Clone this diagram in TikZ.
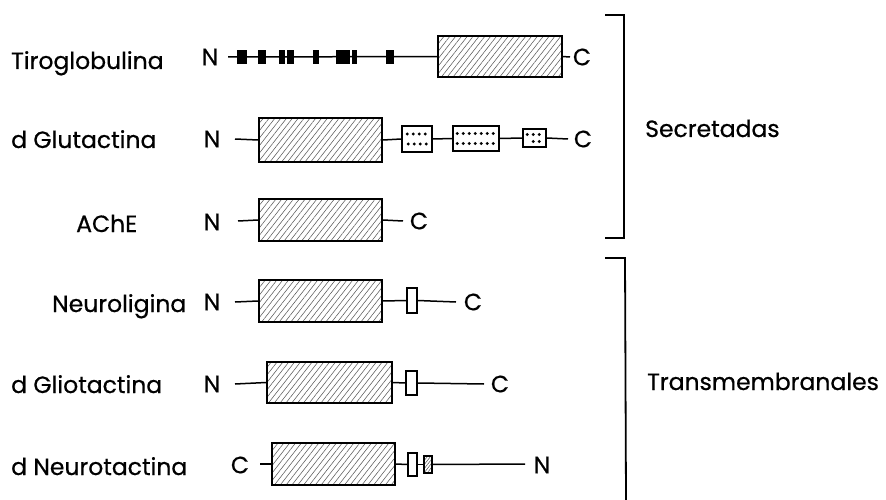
\documentclass[tikz,border=0pt]{standalone}
\usepackage{fontspec}
\setmainfont{Poppins}[FakeBold=0.6]
\usetikzlibrary{patterns.meta,calc}
\begin{document}
\begin{tikzpicture}[x=1pt,y=-1pt,
  lab/.style={font=\fontsize{23.5}{26}\selectfont, inner sep=0pt, anchor=base west},
  term/.style={font=\fontsize{23.5}{26}\selectfont, inner sep=0pt},
  ln/.style={line width=1.5pt},
  hbox/.style={draw, line width=1.8pt, inner sep=0pt,
    pattern={Lines[angle=52,distance=4.6pt,line width=0.55pt]}, pattern color=black!65},
  dbox/.style={draw, line width=1.5pt, fill=white, inner sep=0pt},
  blk/.style={fill=black, inner sep=0pt, minimum height=14pt},
  tmbox/.style={draw, line width=1.4pt, fill=white, inner sep=0pt},
  brk/.style={line width=1.8pt},
  dt/.style={circle, fill=black, inner sep=0pt, minimum size=3.2pt}
]
\useasboundingbox (0,0) rectangle (886,500);

% ---------- Row 1: Tiroglobulina ----------
\node[lab] (l1) at (11,69) {Tiroglobulina};
\node[term] (n1) at (210,57) {N};
\coordinate (s1) at (228,57);
\node[hbox, minimum width=124pt, minimum height=41pt] (b1) at (500,56.5) {};
\coordinate (e1) at (570,57);
\node[term] (c1) at (582,57) {C};
\draw[ln] (s1) -- (b1.west);
\draw[ln] (b1.east) -- (e1);
\node[blk, minimum width=10pt] (k1) at (242,57) {};
\node[blk, minimum width=8pt] (k2) at (262,57) {};
\node[blk, minimum width=6pt] (k3) at (282,57) {};
\node[blk, minimum width=7pt] (k4) at (290.5,57) {};
\node[blk, minimum width=6pt] (k5) at (316,57) {};
\node[blk, minimum width=14pt] (k6) at (343,57) {};
\node[blk, minimum width=5pt] (k7) at (354.5,57) {};
\node[blk, minimum width=8pt] (k8) at (390,57) {};

% ---------- Row 2: d Glutactina ----------
\node[lab] (l2) at (11,148) {d Glutactina};
\node[term] (n2) at (212,139) {N};
\coordinate (s2) at (235,139);
\node[hbox, minimum width=123pt, minimum height=44pt] (b2) at (320.5,140) {};
\node[dbox, minimum width=30pt, minimum height=26pt] (d1) at (417,139) {};
\node[dbox, minimum width=46pt, minimum height=25pt] (d2) at (476,138.5) {};
\node[dbox, minimum width=23pt, minimum height=18pt] (d3) at (534.5,138) {};
\coordinate (e2) at (568,139);
\node[term] (c2) at (583,139) {C};
\draw[ln] (s2) -- (b2.west);
\draw[ln] (b2.east) -- (d1.west);
\draw[ln] (d1.east) -- (d2.west);
\draw[ln] (d2.east) -- (d3.west);
\draw[ln] (d3.east) -- (e2);
\foreach \i in {0,...,3} {
  \node[dt] at ($(d1.west)+(6+6*\i,-5)$) {};
  \node[dt] at ($(d1.west)+(7+6*\i,5)$) {};
}
\foreach \i in {0,...,6} {
  \node[dt] at ($(d2.west)+(5+6*\i,-5)$) {};
  \node[dt] at ($(d2.west)+(5+6*\i,5)$) {};
}
\foreach \i in {0,...,2} {
  \node[dt] at ($(d3.west)+(5+6*\i,-3.5)$) {};
}
\foreach \i in {0,...,1} {
  \node[dt] at ($(d3.west)+(11+6*\i,3.5)$) {};
}

% ---------- Row 3: AChE ----------
\node[lab] (l3) at (76,232) {AChE};
\node[term] (n3) at (212,222) {N};
\coordinate (s3) at (238,221);
\node[hbox, minimum width=123pt, minimum height=42pt] (b3) at (320.5,220) {};
\coordinate (e3) at (403,221);
\node[term] (c3) at (419,221) {C};
\draw[ln] (s3) -- (b3.west);
\draw[ln] (b3.east) -- (e3);

% ---------- Row 4: Neuroligina ----------
\node[lab] (l4) at (52,312) {Neuroligina};
\node[term] (n4) at (212,302) {N};
\coordinate (s4) at (235,302);
\node[hbox, minimum width=123pt, minimum height=42pt] (b4) at (320.5,301) {};
\node[tmbox, minimum width=10pt, minimum height=25pt] (t4) at (412,300.5) {};
\coordinate (e4) at (456,302);
\node[term] (c4) at (473,302) {C};
\draw[ln] (s4) -- (b4.west);
\draw[ln] (b4.east) -- (t4.west);
\draw[ln] (t4.east) -- (e4);

% ---------- Row 5: d Gliotactina ----------
\node[lab] (l5) at (11,393) {d Gliotactina};
\node[term] (n5) at (212,384) {N};
\coordinate (s5) at (235,384);
\node[hbox, minimum width=125pt, minimum height=41pt] (b5) at (329.5,382.5) {};
\node[tmbox, minimum width=11pt, minimum height=24pt] (t5) at (411.5,383) {};
\coordinate (e5) at (484,384);
\node[term] (c5) at (500,384) {C};
\draw[ln] (s5) -- (b5.west);
\draw[ln] (b5.east) -- (t5.west);
\draw[ln] (t5.east) -- (e5);

% ---------- Row 6: d Neurotactina ----------
\node[lab] (l6) at (11,475) {d Neurotactina};
\node[term] (c6) at (240,465) {C};
\coordinate (s6) at (260,464);
\node[hbox, minimum width=123pt, minimum height=42pt] (b6) at (333.5,464) {};
\node[tmbox, minimum width=9pt, minimum height=23pt] (t6) at (412.5,464.5) {};
\node[tmbox, minimum width=8pt, minimum height=17pt,
  pattern={Lines[angle=52,distance=2.5pt,line width=0.5pt]}, pattern color=black!70] (u6) at (428,464.5) {};
\coordinate (e6) at (525,464);
\node[term] (n6) at (542,465) {N};
\draw[ln] (s6) -- (b6.west);
\draw[ln] (b6.east) -- (t6.west);
\draw[ln] (t6.east) -- (u6.west);
\draw[ln] (u6.east) -- (e6);

% ---------- Brackets ----------
\coordinate (p1) at (605,15);
\coordinate (p2) at (624,15);
\coordinate (p3) at (624,238);
\coordinate (p4) at (605,238);
\draw[brk] (p1) -- (p2) -- (p3) -- (p4);
\node[lab] (g1) at (645,137) {Secretadas};
\coordinate (q1) at (605,258);
\coordinate (q2) at (625,258);
\coordinate (q3) at (626,500);
\draw[brk] (q1) -- (q2) -- (q3);
\node[lab] (g2) at (647,390) {Transmembranales};
\end{tikzpicture}
\end{document}
